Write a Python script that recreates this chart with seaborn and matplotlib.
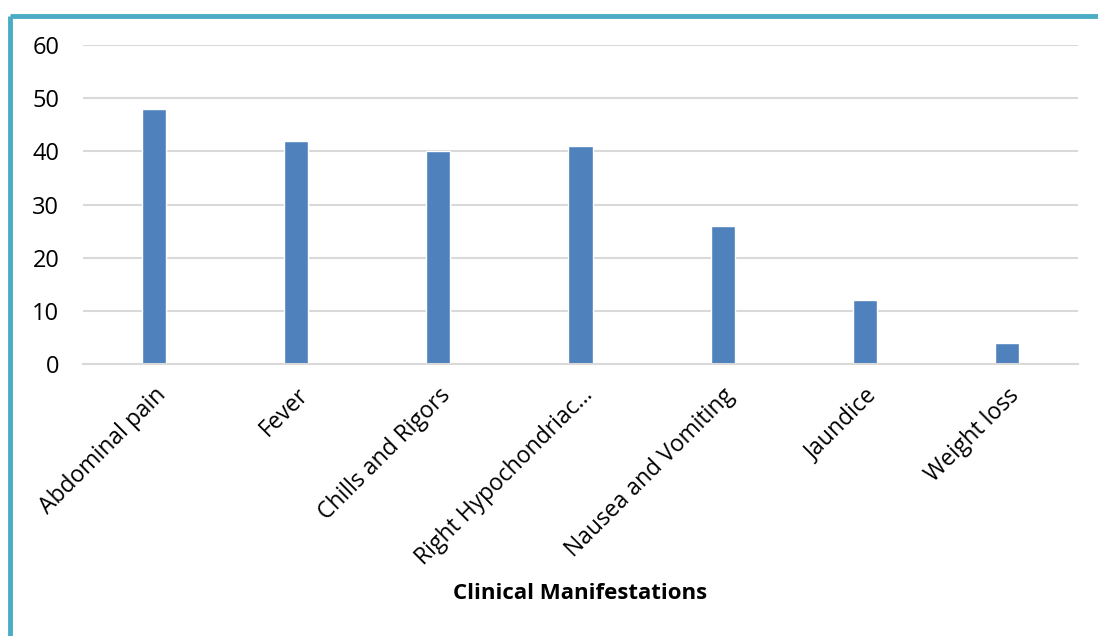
import matplotlib
matplotlib.use("Agg")
import matplotlib.pyplot as plt
import seaborn as sns
import pandas as pd
from matplotlib.lines import Line2D

categories = ["Abdominal pain", "Fever", "Chills and Rigors", "Right Hypochondriac…",
              "Nausea and Vomiting", "Jaundice", "Weight loss"]
values = [48, 42, 40, 41, 26, 12, 4]
yticks = [0, 10, 20, 30, 40, 50, 60]

sns.set_theme(style="white")
plt.rcParams['font.family'] = ['Open Sans', 'DejaVu Sans']

df = pd.DataFrame({"cat": categories, "val": values})

fig = plt.figure(figsize=(10.98, 6.36), dpi=100)
ax = fig.add_axes([83/1098, 1 - 364/636, (1078-83)/1098, (364-45)/636])

sns.barplot(data=df, x="cat", y="val", color="#4F81BD", saturation=1, width=0.17, ax=ax)

ax.set_ylim(0, 60)
ax.set_yticks(yticks)
ax.set_xlim(-0.5, len(categories) - 0.5)
ax.yaxis.grid(True, color="#D9D9D9", linewidth=1.5)
ax.set_axisbelow(True)
for s in ["top", "right", "left"]:
    ax.spines[s].set_visible(False)
ax.spines["bottom"].set_color("#D9D9D9")
ax.spines["bottom"].set_linewidth(1.5)
ax.tick_params(axis="y", labelsize=17, pad=17, length=0, colors="black")
ax.tick_params(axis="x", labelsize=16.5, length=0, pad=14, colors="black")
plt.setp(ax.get_xticklabels(), rotation=45, ha="right", rotation_mode="anchor")
ax.set_ylabel("")
ax.set_xlabel("Clinical Manifestations", fontsize=16, fontweight="bold", labelpad=9, color="black")

# frame border (teal) on top and left
teal = "#4BACC6"
fig.add_artist(Line2D([10/1098, 1.0], [1 - 16/636, 1 - 16/636], transform=fig.transFigure,
                      color=teal, linewidth=3.5, solid_capstyle="butt"))
fig.add_artist(Line2D([10/1098, 10/1098], [1 - 16/636, 0.0], transform=fig.transFigure,
                      color=teal, linewidth=3.5, solid_capstyle="butt"))

fig.savefig("out.png", dpi=100)
